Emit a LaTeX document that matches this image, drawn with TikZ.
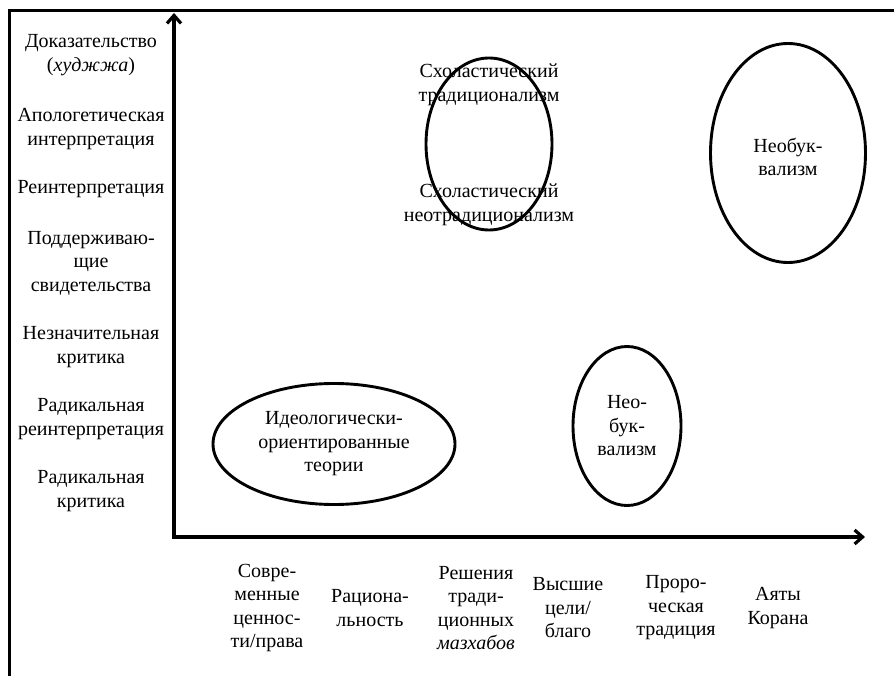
\documentclass[tikz,border=0pt]{standalone}
\usepackage{fontspec}
\setmainfont{Liberation Serif}
\newfontfamily\tnr{Liberation Serif}
\usetikzlibrary{arrows.meta,shapes.geometric}
\begin{document}
\begin{tikzpicture}[x=1pt,y=-1pt,
  lbl/.style={align=center,font=\tnr\fontsize{20}{23.5}\selectfont,inner sep=0pt},
  oval/.style={draw,ellipse,line width=2.9pt,inner sep=0pt},
  axis/.style={line width=3.4pt,{Straight Barb[length=8pt,width=14pt,line width=3.2pt]}-{Straight Barb[length=8pt,width=14pt,line width=3.2pt]}},
  frame/.style={line width=3pt}]
\useasboundingbox (0,0) rectangle (894,676);
% frame
\coordinate (f1) at (9,680);
\coordinate (f2) at (9,11);
\coordinate (f3) at (900,11);
\draw[frame] (f1) -- (f2) -- (f3);
% axes
\coordinate (O) at (174,537);
\coordinate (ytip) at (174,13);
\coordinate (xtip) at (865,537);
\draw[axis] (ytip) -- (O) -- (xtip);
% y labels
\node[lbl] (y1) at (91,55) {Доказательство\\(\textit{худжжа})};
\node[lbl] (y2) at (91,129) {Апологетическая\\интерпретация};
\node[lbl] (y3) at (91,189) {Реинтерпретация};
\node[lbl] (y4) at (91,263) {Поддерживаю-\\щие\\свидетельства};
\node[lbl] (y5) at (91,347) {Незначительная\\критика};
\node[lbl] (y6) at (91,419) {Радикальная\\реинтерпретация};
\node[lbl] (y7) at (91,491) {Радикальная\\критика};
% x labels
\node[lbl] (x1) at (267,608) {Совре-\\менные\\ценнос-\\ти/права};
\node[lbl] (x2) at (370,608) {Рациона-\\льность};
\node[lbl] (x3) at (476,608) {Решения\\тради-\\ционных\\\textit{мазхабов}};
\node[lbl] (x4) at (568,608) {Высшие\\цели/\\благо};
\node[lbl] (x5) at (676,608) {Проро-\\ческая\\традиция};
\node[lbl] (x6) at (778,608) {Аяты\\Корана};
% ellipses
\node[oval,minimum width=126pt,minimum height=172pt] (e1) at (489,144) {};
\node[lbl] (t1) at (489,85) {Схоластический\\традиционализм};
\node[lbl] (t2) at (489,205) {Схоластический\\неотрадиционализм};
\node[oval,minimum width=155pt,minimum height=219pt] (e2) at (788,153) {};
\node[lbl] (t3) at (788,157) {Необук-\\вализм};
\node[oval,minimum width=242pt,minimum height=121pt] (e3) at (334,444) {};
\node[lbl] (t4) at (334,444) {Идеологически-\\ориентированные\\теории};
\node[oval,minimum width=108pt,minimum height=159pt] (e4) at (627,426) {};
\node[lbl] (t5) at (627,426) {Нео-\\бук-\\вализм};
\end{tikzpicture}
\end{document}
